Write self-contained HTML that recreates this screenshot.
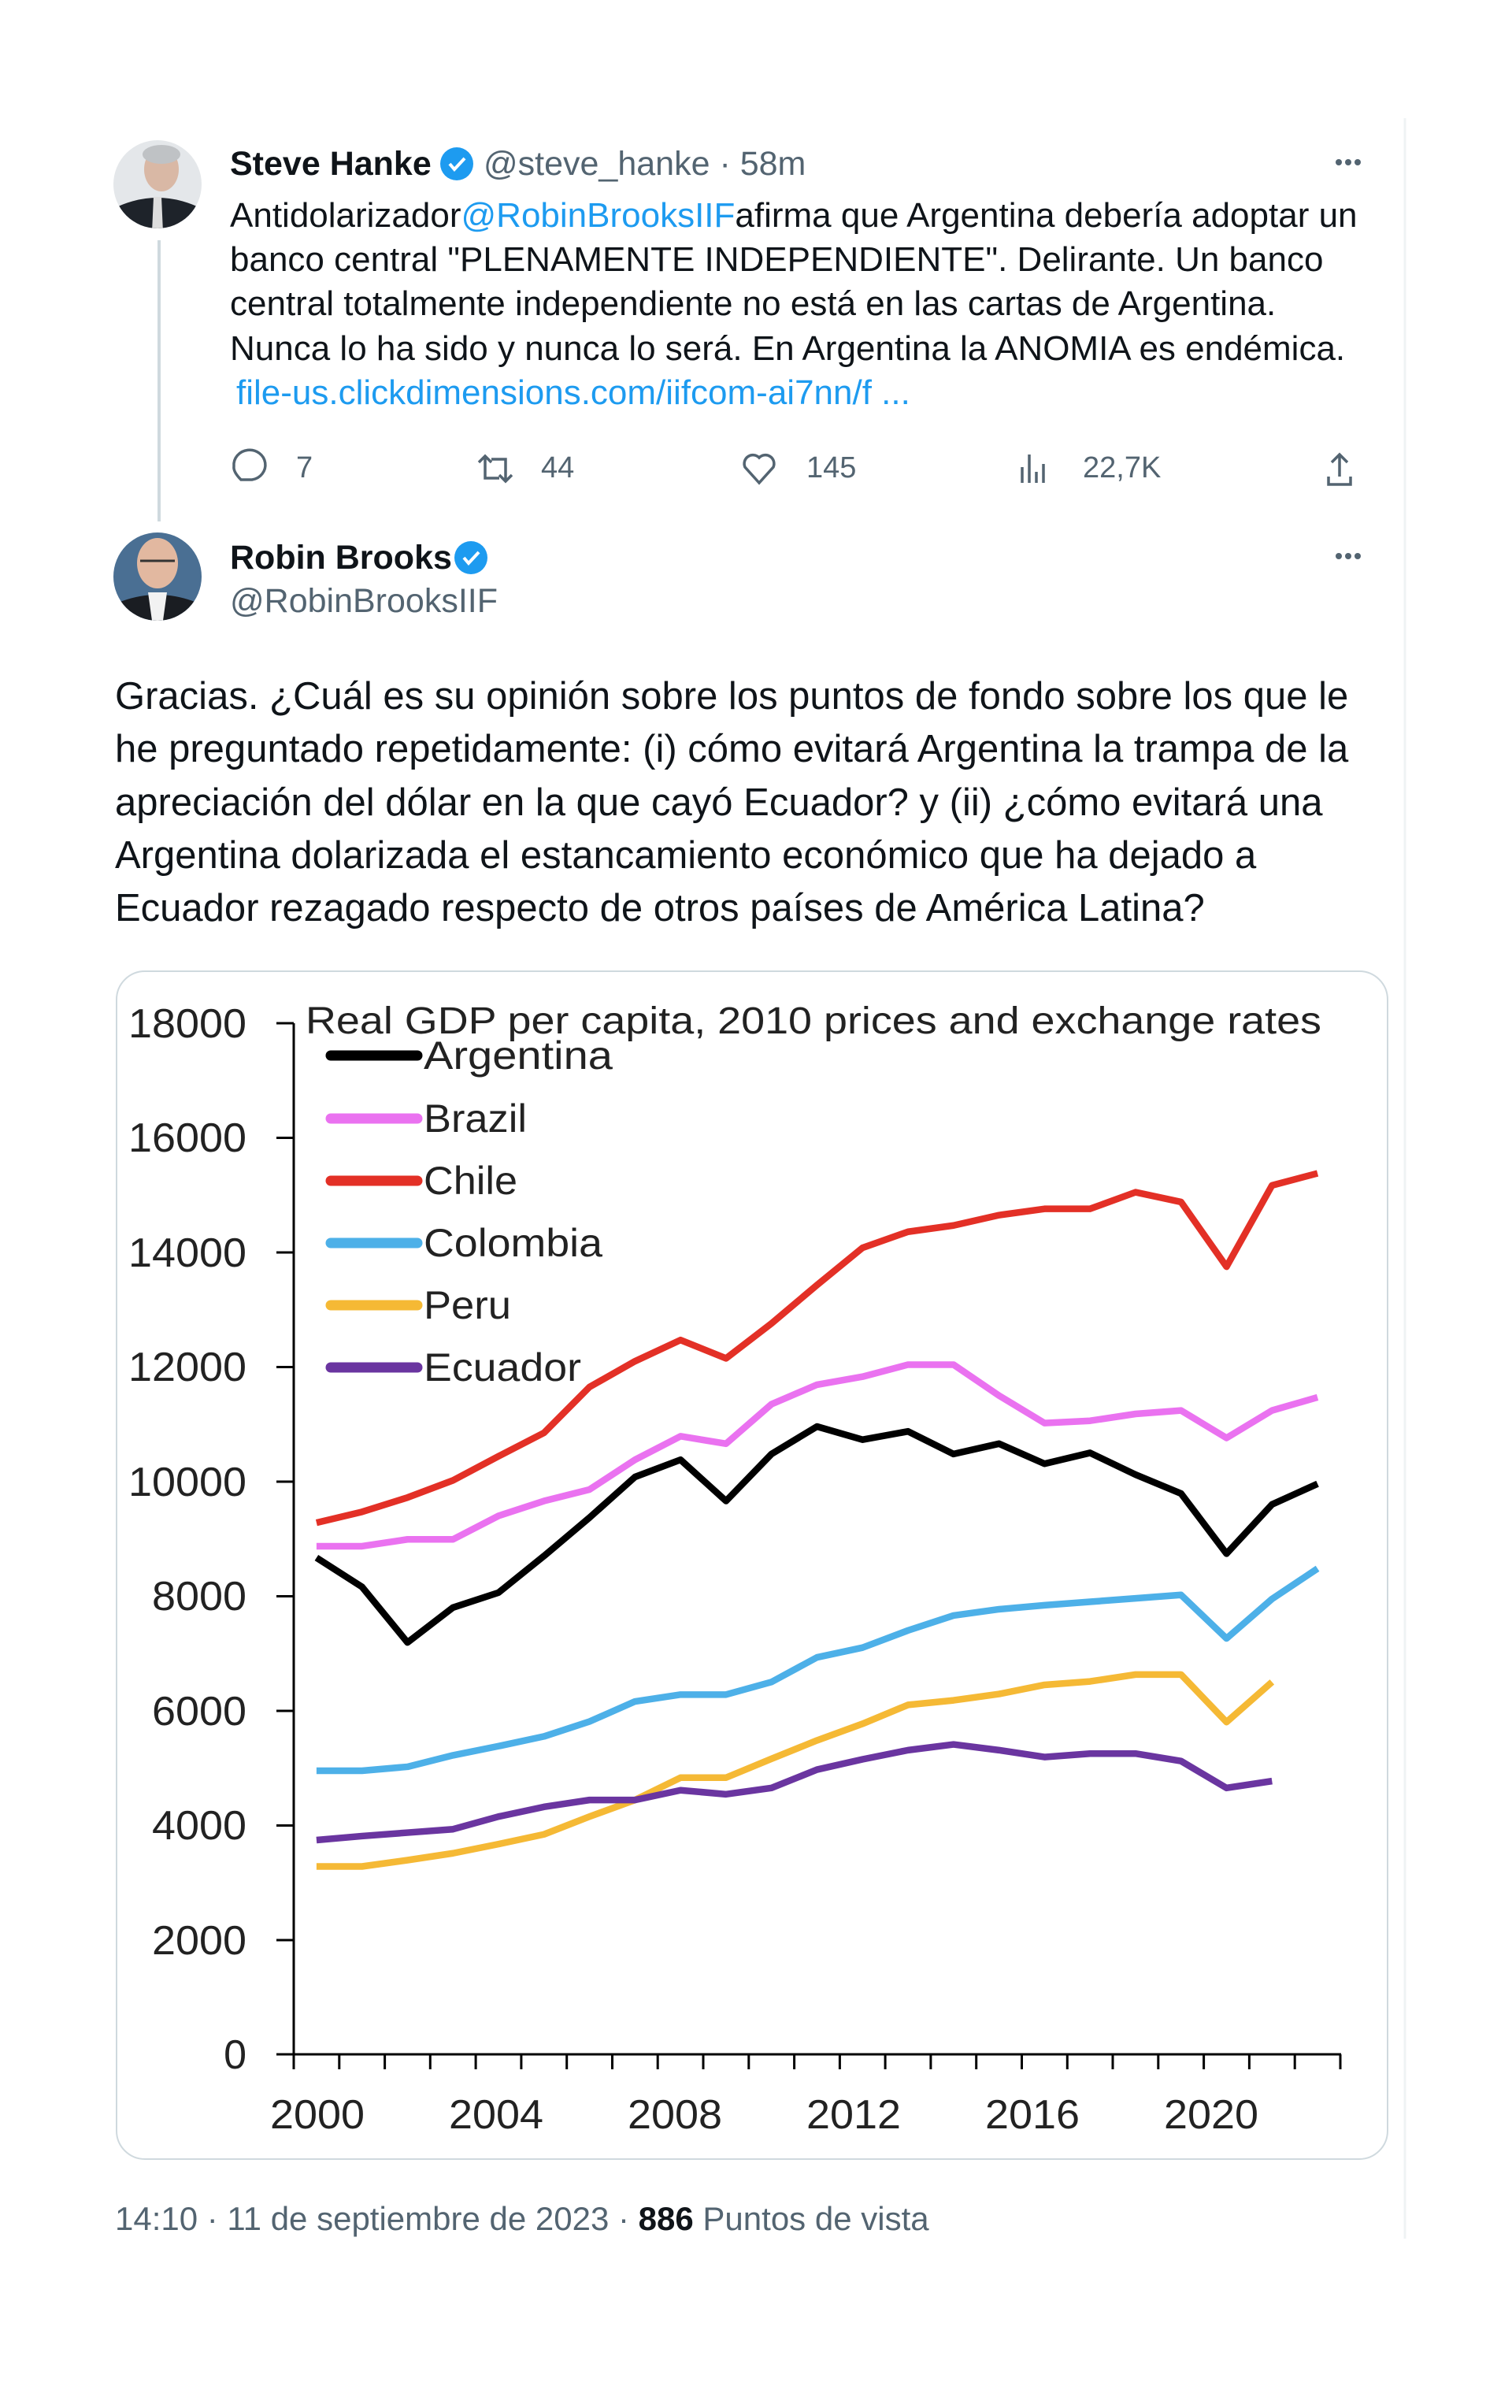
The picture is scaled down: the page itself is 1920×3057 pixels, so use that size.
<!DOCTYPE html>
<html><head><meta charset="utf-8"><style>
html,body{margin:0;padding:0;background:#fff;}
body{width:1920px;height:3057px;position:relative;overflow:hidden;font-family:"Liberation Sans",sans-serif;color:#0f1419;}
.a{position:absolute;white-space:nowrap;}
.t{font-size:44px;line-height:56px;}
.m{font-size:49px;line-height:68px;}
.g{color:#536471;}
.l{color:#1d9bf0;}
</style></head><body>
<svg class="a" style="left:0;top:0" width="1920" height="3057" viewBox="0 0 1920 3057">
<line x1="1784" y1="150" x2="1784" y2="2842" stroke="#eff3f4" stroke-width="3"/>
<line x1="202" y1="305" x2="202" y2="662" stroke="#cfd9de" stroke-width="4"/>
<defs><clipPath id="c1"><circle cx="200" cy="234" r="56"/></clipPath><clipPath id="c2"><circle cx="200" cy="732" r="56"/></clipPath></defs>
<g clip-path="url(#c1)"><rect x="140" y="175" width="120" height="120" fill="#e4e7ea"/><ellipse cx="205" cy="215" rx="22" ry="28" fill="#d9b8a5"/><path d="M140 295 L150 262 Q200 240 250 262 L260 295Z" fill="#1e232a"/><path d="M195 250 L205 250 L207 295 L193 295Z" fill="#ddd"/><ellipse cx="205" cy="196" rx="24" ry="12" fill="#bfc2c5"/></g>
<g clip-path="url(#c2)"><rect x="140" y="675" width="120" height="120" fill="#4a6f93"/><ellipse cx="200" cy="715" rx="26" ry="32" fill="#e2b8a0"/><path d="M140 795 L150 765 Q200 745 250 765 L260 795Z" fill="#1a1d22"/><path d="M188 752 L212 752 L206 795 L194 795Z" fill="#f2f2f2"/><line x1="178" y1="712" x2="222" y2="712" stroke="#333" stroke-width="3"/></g>
<g transform="translate(580,208)"><circle r="21" fill="#1d9bf0"/><path d="M-9 0 L-3 7 L10 -7" stroke="#fff" stroke-width="4" fill="none"/></g>
<g transform="translate(598,708)"><circle r="21" fill="#1d9bf0"/><path d="M-9 0 L-3 7 L10 -7" stroke="#fff" stroke-width="4" fill="none"/></g>
<g fill="#536471"><circle cx="1700" cy="206" r="4"/><circle cx="1712" cy="206" r="4"/><circle cx="1724" cy="206" r="4"/><circle cx="1700" cy="706" r="4"/><circle cx="1712" cy="706" r="4"/><circle cx="1724" cy="706" r="4"/></g>
<g stroke="#536471" stroke-width="3.5" fill="none" transform="translate(0,9)">
<path d="M306 600 Q296 590 297 583 A20 19 0 1 1 320 600 Z"/>
<path d="M608 578 L616 570 L624 578 M616 572 L616 598 L634 598 M650 594 L642 602 L634 594 M642 600 L642 574 L624 574"/>
<path d="M964 604 L946 584 A11 11 0 0 1 964 572 A11 11 0 0 1 982 584 Z"/>
<path d="M1298 604 L1298 584 M1307 604 L1307 568 M1316 604 L1316 590 M1325 604 L1325 580"/>
<path d="M1701 596 L1701 568 M1691 578 L1701 568 L1711 578 M1687 596 L1687 606 L1715 606 L1715 596"/>
</g>
<rect x="148" y="1233" width="1614" height="1508" rx="36" fill="#fff" stroke="#cfd9de" stroke-width="2"/>
<g stroke="#000" stroke-width="3" fill="none">
<line x1="373" y1="1299" x2="373" y2="2610"/>
<line x1="371" y1="2608" x2="1703" y2="2608"/>
<path d="M351 1299H373M351 1444.5H373M351 1590H373M351 1735.5H373M351 1881H373M351 2026.5H373M351 2172H373M351 2317.5H373M351 2463H373M351 2608H373"/>
<path d="M373 2608v19M430.8 2608v19M488.6 2608v19M546.3 2608v19M604.1 2608v19M661.9 2608v19M719.7 2608v19M777.5 2608v19M835.2 2608v19M893 2608v19M950.8 2608v19M1008.6 2608v19M1066.4 2608v19M1124.1 2608v19M1181.9 2608v19M1239.7 2608v19M1297.5 2608v19M1355.3 2608v19M1413 2608v19M1470.8 2608v19M1528.6 2608v19M1586.4 2608v19M1644.2 2608v19M1702 2608v19"/>
</g>
<g font-family="Liberation Sans, sans-serif" font-size="52" fill="#222" text-anchor="end">
<text x="313" y="1317" textLength="150" lengthAdjust="spacingAndGlyphs">18000</text><text x="313" y="1462" textLength="150" lengthAdjust="spacingAndGlyphs">16000</text><text x="313" y="1608" textLength="150" lengthAdjust="spacingAndGlyphs">14000</text><text x="313" y="1753" textLength="150" lengthAdjust="spacingAndGlyphs">12000</text><text x="313" y="1899" textLength="150" lengthAdjust="spacingAndGlyphs">10000</text><text x="313" y="2044" textLength="120" lengthAdjust="spacingAndGlyphs">8000</text><text x="313" y="2190" textLength="120" lengthAdjust="spacingAndGlyphs">6000</text><text x="313" y="2335" textLength="120" lengthAdjust="spacingAndGlyphs">4000</text><text x="313" y="2481" textLength="120" lengthAdjust="spacingAndGlyphs">2000</text><text x="313" y="2626">0</text>
</g>
<g font-family="Liberation Sans, sans-serif" font-size="52" fill="#222">
<text x="343" y="2702" textLength="120" lengthAdjust="spacingAndGlyphs">2000</text><text x="570" y="2702" textLength="120" lengthAdjust="spacingAndGlyphs">2004</text><text x="797" y="2702" textLength="120" lengthAdjust="spacingAndGlyphs">2008</text><text x="1024" y="2702" textLength="120" lengthAdjust="spacingAndGlyphs">2012</text><text x="1251" y="2702" textLength="120" lengthAdjust="spacingAndGlyphs">2016</text><text x="1478" y="2702" textLength="120" lengthAdjust="spacingAndGlyphs">2020</text>
</g>
<text x="388" y="1312" font-family="Liberation Sans, sans-serif" font-size="48" fill="#222" textLength="1290" lengthAdjust="spacingAndGlyphs">Real GDP per capita, 2010  prices and exchange rates</text>
<g stroke-width="13" stroke-linecap="round">
<line x1="420" y1="1340" x2="530" y2="1340" stroke="#000"/>
<line x1="420" y1="1420" x2="530" y2="1420" stroke="#ea72f0"/>
<line x1="420" y1="1499" x2="530" y2="1499" stroke="#e33026"/>
<line x1="420" y1="1578" x2="530" y2="1578" stroke="#4db0e8"/>
<line x1="420" y1="1657" x2="530" y2="1657" stroke="#f5b935"/>
<line x1="420" y1="1736" x2="530" y2="1736" stroke="#6a35a0"/>
</g>
<g font-family="Liberation Sans, sans-serif" font-size="50" fill="#222">
<text x="538" y="1357" textLength="240" lengthAdjust="spacingAndGlyphs">Argentina</text><text x="538" y="1437" textLength="131" lengthAdjust="spacingAndGlyphs">Brazil</text><text x="538" y="1516" textLength="119" lengthAdjust="spacingAndGlyphs">Chile</text><text x="538" y="1595" textLength="227" lengthAdjust="spacingAndGlyphs">Colombia</text><text x="538" y="1674" textLength="111" lengthAdjust="spacingAndGlyphs">Peru</text><text x="538" y="1753" textLength="200" lengthAdjust="spacingAndGlyphs">Ecuador</text>
</g>
<g transform="translate(401.9,2608) scale(57.78,-0.07272)" fill="none" stroke-width="8.5" stroke-linejoin="round">
<polyline vector-effect="non-scaling-stroke" stroke="#4db0e8" points="0,4950 1,4950 2,5020 3,5220 4,5380 5,5550 6,5810 7,6160 8,6280 9,6280 10,6500 11,6930 12,7100 13,7400 14,7660 15,7770 16,7840 17,7900 18,7960 19,8020 20,7260 21,7950 22,8480"/>
<polyline vector-effect="non-scaling-stroke" stroke="#f5b935" points="0,3280 1,3280 2,3390 3,3510 4,3670 5,3840 6,4150 7,4440 8,4830 9,4830 10,5160 11,5480 12,5770 13,6100 14,6180 15,6290 16,6450 17,6510 18,6630 19,6630 20,5800 21,6500"/>
<polyline vector-effect="non-scaling-stroke" stroke="#6a35a0" points="0,3740 1,3810 2,3870 3,3930 4,4150 5,4320 6,4440 7,4440 8,4610 9,4540 10,4650 11,4970 12,5150 13,5310 14,5410 15,5310 16,5190 17,5250 18,5250 19,5120 20,4650 21,4770"/>
<polyline vector-effect="non-scaling-stroke" stroke="#ea72f0" points="0,8870 1,8870 2,8990 3,8990 4,9400 5,9660 6,9860 7,10380 8,10790 9,10660 10,11350 11,11690 12,11830 13,12040 14,12040 15,11500 16,11020 17,11060 18,11180 19,11240 20,10760 21,11240 22,11470"/>
<polyline vector-effect="non-scaling-stroke" stroke="#000" points="0,8670 1,8160 2,7190 3,7800 4,8060 5,8700 6,9370 7,10080 8,10380 9,9660 10,10480 11,10960 12,10730 13,10875 14,10480 15,10660 16,10310 17,10500 18,10120 19,9790 20,8740 21,9600 22,9960"/>
<polyline vector-effect="non-scaling-stroke" stroke="#e33026" points="0,9280 1,9470 2,9720 3,10020 4,10440 5,10850 6,11650 7,12100 8,12470 9,12150 10,12760 11,13430 12,14080 13,14360 14,14470 15,14650 16,14760 17,14760 18,15050 19,14880 20,13750 21,15170 22,15380"/>
</g>
</svg>

<div class="a" style="left:292px;top:183px;font-size:43px;line-height:50px;"><b>Steve Hanke</b></div>
<div class="a g" style="left:614px;top:183px;font-size:43px;line-height:50px;">@steve_hanke · 58m</div>
<div class="a t" style="left:292px;top:246px;">Antidolarizador<span class="l">@RobinBrooksIIF</span>afirma que Argentina debería adoptar un</div>
<div class="a t" style="left:292px;top:302px;">banco central "PLENAMENTE INDEPENDIENTE". Delirante. Un banco</div>
<div class="a t" style="left:292px;top:358px;">central totalmente independiente no está en las cartas de Argentina.</div>
<div class="a t" style="left:292px;top:415px;">Nunca lo ha sido y nunca lo será. En Argentina la ANOMIA es endémica.</div>
<div class="a t l" style="left:300px;top:471px;">file-us.clickdimensions.com/iifcom-ai7nn/f ...</div>
<div class="a g" style="left:376px;top:574px;font-size:38px;line-height:40px;">7</div>
<div class="a g" style="left:687px;top:574px;font-size:38px;line-height:40px;">44</div>
<div class="a g" style="left:1024px;top:574px;font-size:38px;line-height:40px;">145</div>
<div class="a g" style="left:1375px;top:574px;font-size:38px;line-height:40px;">22,7K</div>

<div class="a" style="left:292px;top:683px;font-size:43px;line-height:50px;"><b>Robin Brooks</b></div>
<div class="a g" style="left:292px;top:738px;font-size:43px;line-height:50px;">@RobinBrooksIIF</div>

<div class="a m" style="left:146px;top:850px;">Gracias. ¿Cuál es su opinión sobre los puntos de fondo sobre los que le</div>
<div class="a m" style="left:146px;top:917px;">he preguntado repetidamente: (i) cómo evitará Argentina la trampa de la</div>
<div class="a m" style="left:146px;top:985px;">apreciación del dólar en la que cayó Ecuador? y (ii) ¿cómo evitará una</div>
<div class="a m" style="left:146px;top:1052px;">Argentina dolarizada el estancamiento económico que ha dejado a</div>
<div class="a m" style="left:146px;top:1119px;">Ecuador rezagado respecto de otros países de América Latina?</div>

<div class="a g" style="left:146px;top:2792px;font-size:42px;line-height:50px;">14:10 · 11 de septiembre de 2023 · <b style="color:#0f1419">886</b> Puntos de vista</div>
</body></html>
